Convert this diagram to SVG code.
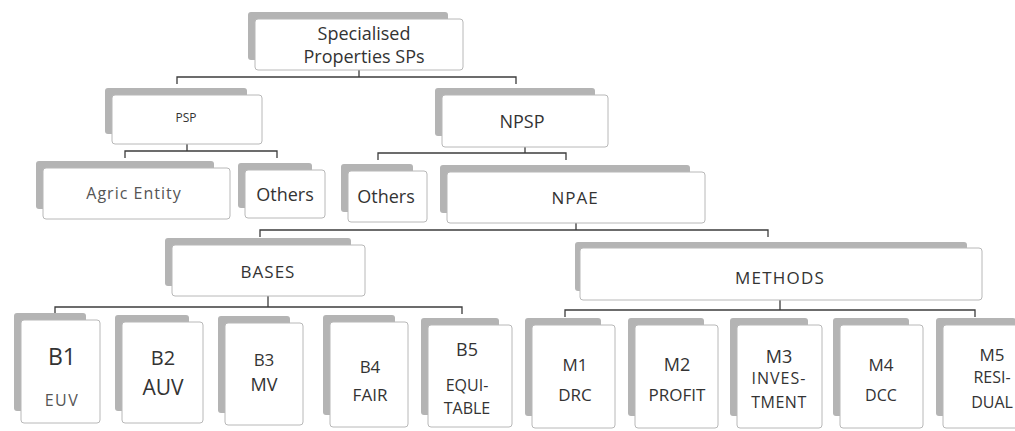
<svg xmlns="http://www.w3.org/2000/svg" width="1015" height="431" viewBox="0 0 1015 431">
<style>
.sh{fill:#b4b4b4}
.bx{fill:#fff;stroke:#b8b8b8;stroke-width:1}
.t{font-family:"Open Sans","Liberation Sans",sans-serif;fill:#333;text-anchor:middle}
.lt{fill:#555}
.c{stroke:#3c3c3c;stroke-width:1.3;fill:none}
</style>
<rect width="1015" height="431" fill="#fff"/>
<g id="connectors">
<path class="c" d="M177,84V77H516V84M359,70V77"/>
<path class="c" d="M125,158V151H277V158M187,144V151"/>
<path class="c" d="M378,160V153H566V160M525,147V153"/>
<path class="c" d="M260,237V230H768V237M576,223V230"/>
<path class="c" d="M55,314V307H462V314M268,296V307"/>
<path class="c" d="M565,317V310H975V317M780,300V310"/>
</g>
<g id="sp"><rect class="sh" x="248" y="12" width="200" height="48" rx="3"/><rect class="bx" x="255" y="19" width="208" height="51" rx="3"/><text class="t" x="364" y="40" font-size="18">Specialised</text><text class="t" x="364" y="63" font-size="18">Properties SPs</text></g>
<g id="psp"><rect class="sh" x="105" y="88" width="142" height="46" rx="3"/><rect class="bx" x="112" y="95" width="150" height="49" rx="3"/><text class="t" x="186" y="122" font-size="12">PSP</text></g>
<g id="npsp"><rect class="sh" x="435" y="88" width="160" height="48" rx="3"/><rect class="bx" x="442" y="95" width="166" height="52" rx="3"/><text class="t" x="522" y="128" font-size="18">NPSP</text></g>
<g id="agric"><rect class="sh" x="36" y="161" width="178" height="48" rx="3"/><rect class="bx" x="43" y="168" width="187" height="51" rx="3"/><text class="t lt" x="134" y="199" font-size="16" letter-spacing="1">Agric Entity</text></g>
<g id="others1"><rect class="sh" x="238" y="163" width="74" height="45" rx="3"/><rect class="bx" x="245" y="170" width="80" height="48" rx="3"/><text class="t" x="285" y="201" font-size="18">Others</text></g>
<g id="others2"><rect class="sh" x="341" y="164" width="72" height="48" rx="3"/><rect class="bx" x="348" y="171" width="79" height="51" rx="3"/><text class="t" x="386" y="203" font-size="18">Others</text></g>
<g id="npae"><rect class="sh" x="440" y="165" width="250" height="48" rx="3"/><rect class="bx" x="447" y="172" width="258" height="51" rx="3"/><text class="t" x="575" y="204" font-size="17" letter-spacing="1">NPAE</text></g>
<g id="bases"><rect class="sh" x="165" y="238" width="186" height="48" rx="3"/><rect class="bx" x="172" y="245" width="193" height="51" rx="3"/><text class="t" x="268" y="278" font-size="17" letter-spacing="1">BASES</text></g>
<g id="methods"><rect class="sh" x="575" y="242" width="392" height="49" rx="3"/><rect class="bx" x="580" y="248" width="402" height="52" rx="3"/><text class="t" x="780" y="284" font-size="17" letter-spacing="1.2">METHODS</text></g>
<g id="b1"><rect class="sh" x="14" y="313" width="72" height="98" rx="3"/><rect class="bx" x="21" y="320" width="79" height="103" rx="3"/><text class="t" x="62" y="365" font-size="23">B1</text><text class="t lt" x="62" y="406" font-size="16" letter-spacing="1.5">EUV</text></g>
<g id="b2"><rect class="sh" x="115" y="315" width="74" height="96" rx="3"/><rect class="bx" x="122" y="322" width="81" height="101" rx="3"/><text class="t" x="163" y="365" font-size="20">B2</text><text class="t" x="163" y="395" font-size="21">AUV</text></g>
<g id="b3"><rect class="sh" x="218" y="316" width="72" height="97" rx="3"/><rect class="bx" x="225" y="323" width="78" height="102" rx="3"/><text class="t" x="264" y="366" font-size="17">B3</text><text class="t" x="264" y="391" font-size="18">MV</text></g>
<g id="b4"><rect class="sh" x="323" y="315" width="72" height="100" rx="3"/><rect class="bx" x="330" y="322" width="78" height="105" rx="3"/><text class="t" x="370" y="373" font-size="17">B4</text><text class="t" x="370" y="401" font-size="17">FAIR</text></g>
<g id="b5"><rect class="sh" x="421" y="318" width="78" height="97" rx="3"/><rect class="bx" x="428" y="325" width="84" height="102" rx="3"/><text class="t" x="467" y="356" font-size="18">B5</text><text class="t" x="467" y="391" font-size="16">EQUI-</text><text class="t" x="467" y="414" font-size="16">TABLE</text></g>
<g id="m1"><rect class="sh" x="525" y="318" width="76" height="98" rx="3"/><rect class="bx" x="532" y="325" width="83" height="103" rx="3"/><text class="t" x="575" y="371" font-size="17">M1</text><text class="t" x="575" y="401" font-size="17">DRC</text></g>
<g id="m2"><rect class="sh" x="628" y="318" width="76" height="98" rx="3"/><rect class="bx" x="635" y="325" width="83" height="103" rx="3"/><text class="t" x="677" y="371" font-size="18">M2</text><text class="t" x="677" y="401" font-size="17">PROFIT</text></g>
<g id="m3"><rect class="sh" x="730" y="318" width="78" height="98" rx="3"/><rect class="bx" x="737" y="325" width="85" height="103" rx="3"/><text class="t" x="779" y="363" font-size="18">M3</text><text class="t" x="779" y="384" font-size="16" letter-spacing="1">INVES-</text><text class="t" x="779" y="408" font-size="16" letter-spacing="0.5">TMENT</text></g>
<g id="m4"><rect class="sh" x="833" y="318" width="76" height="98" rx="3"/><rect class="bx" x="840" y="325" width="83" height="103" rx="3"/><text class="t" x="881" y="371" font-size="17">M4</text><text class="t" x="881" y="401" font-size="16">DCC</text></g>
<g id="m5"><rect class="sh" x="936" y="318" width="80" height="98" rx="3"/><rect class="bx" x="943" y="325" width="82" height="103" rx="3"/><text class="t" x="992" y="361" font-size="17">M5</text><text class="t" x="992" y="383" font-size="16">RESI-</text><text class="t" x="992" y="408" font-size="16">DUAL</text></g>
</svg>
